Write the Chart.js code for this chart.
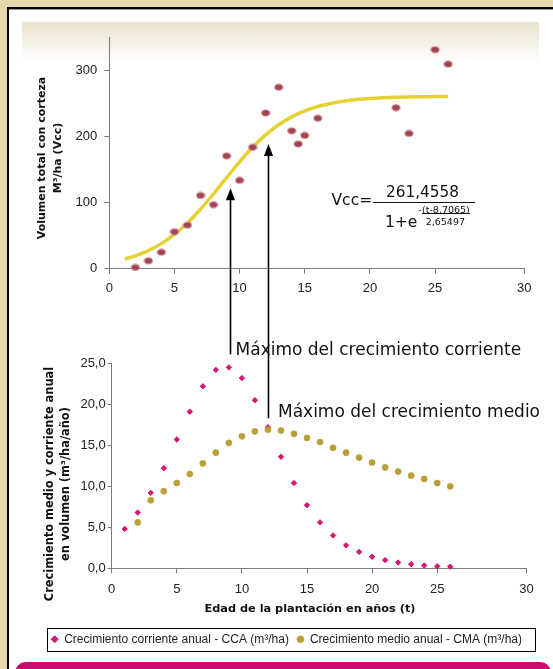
<!DOCTYPE html>
<html lang="es">
<head>
<meta charset="utf-8">
<title>Volumen y crecimiento de la plantación</title>
<script src="https://cdn.jsdelivr.net/npm/chart.js@4.4.1/dist/chart.umd.min.js"></script>
<style>
  html, body { margin: 0; padding: 0; }
  body {
    width: 553px; height: 669px; position: relative; overflow: hidden;
    background: #e7d9ac; font-family: 'DejaVu Sans', sans-serif; color: #111;
  }
  #frame {
    position: absolute; left: 7px; top: 7px; width: 570px; height: 700px;
    background: #fff; border-left: 2px solid #000; border-top: 2px solid #000;
    box-shadow: inset 0 1px 0 #9a9a9a;
  }
  #band {
    position: absolute; left: 22px; top: 22px; width: 517px; height: 40px;
    background: linear-gradient(#e8e2cc, #ffffff);
  }
  #footer {
    position: absolute; left: 15px; top: 662px; width: 536px; height: 40px;
    background: #cb0b6e; border-radius: 11px;
  }
  canvas { position: absolute; left: 0; }
  #volumeChart { top: 0; }
  #growthChart { top: 330px; }
  #overlay { top: 0; pointer-events: none; }
  .txt { position: absolute; white-space: nowrap; line-height: 1; color: #111; }
  .bar { position: absolute; background: #111; }
  .axisTitle {
    position: absolute; font-weight: bold; text-align: center; line-height: 16px;
    white-space: nowrap; color: #111; font-family: 'DejaVu Sans', sans-serif;
  }
</style>
</head>
<body>
<div id="frame"></div>
<div id="band"></div>

<canvas id="volumeChart" width="553" height="300"></canvas>
<canvas id="growthChart" width="553" height="339"></canvas>
<canvas id="overlay" width="553" height="669"></canvas>

<!-- axis titles -->
<div class="axisTitle" style="font-size:11px; width:200px; height:32px; left:-49.7px; top:141.5px; transform:rotate(-90deg);">Volumen total con corteza<br>M³/ha (Vcc)</div>
<div class="axisTitle" style="font-size:11.4px; width:270px; height:32px; left:-77.7px; top:468.2px; transform:rotate(-90deg);">Crecimiento medio y corriente anual<br>en volumen (m³/ha/año)</div>
<div class="axisTitle" style="font-size:11.3px; width:300px; height:16px; left:160px; top:601px;">Edad de la plantación en años (t)</div>

<!-- fitted model -->
<div class="txt" style="font-size:15.5px; left:331.5px; top:192.6px;">Vcc=</div>
<div class="txt" style="font-size:15.3px; left:386px; top:184.8px;">261,4558</div>
<div class="bar" style="left:373px; top:201.7px; width:102px; height:1.3px;"></div>
<div class="txt" style="font-size:15.5px; left:385px; top:215.2px;">1+e</div>
<div class="txt" style="font-size:9.5px; left:418.3px; top:204.6px;">-</div>
<div class="txt" style="font-size:9.5px; left:422px; top:204.6px;">(t-8,7065)</div>
<div class="bar" style="left:422px; top:213.3px; width:48px; height:0.8px;"></div>
<div class="txt" style="font-size:9.5px; left:425.7px; top:216.8px;">2,65497</div>

<!-- maxima -->
<div class="txt" style="font-size:17px; left:235.6px; top:340.6px;">Máximo del crecimiento corriente</div>
<div class="txt" style="font-size:17px; left:278px; top:403.3px;">Máximo del crecimiento medio</div>

<div id="footer"></div>

<script>
// Volume over bark (m³/ha) measured at each plantation age
const volAges     = [2, 3, 4, 5, 6, 7, 8, 9, 10, 11, 12, 13, 14, 14.5, 15, 16, 22, 23, 25, 26];
const volObserved = [2, 12, 25, 56, 66, 111, 97, 171, 134, 184, 236, 275, 209, 189, 202, 228, 244, 205, 332, 310];

// Fitted logistic curve Vcc = 261,4558 / (1 + e^(-(t-8,7065)/2,65497))
const fitAges   = [1.2, 2, 3, 4, 5, 6, 7, 8, 9, 10, 11, 12, 13, 14, 15, 16, 17, 18, 19, 20, 21, 22, 23, 24, 25, 26];
const fitVolume = [14.6, 19.4, 27.3, 38.0, 51.9, 69.3, 90.1, 113.4, 137.9, 162.0, 183.9, 202.8, 218.2,
                   230.1, 239.1, 245.7, 250.4, 253.8, 256.2, 257.8, 258.9, 259.7, 260.3, 260.6, 260.9, 261.1];

// Current annual increment (CCA) and mean annual increment (CMA), m³/ha/año
const ccaAges   = [1, 2, 3, 4, 5, 6, 7, 8, 9, 10, 11, 12, 13, 14, 15, 16, 17, 18, 19, 20, 21, 22, 23, 24, 25, 26];
const ccaValues = [4.8, 6.8, 9.2, 12.2, 15.7, 19.1, 22.2, 24.2, 24.5, 23.2, 20.5, 17.2, 13.6, 10.4,
                   7.7, 5.6, 4.0, 2.8, 2.0, 1.4, 1.0, 0.7, 0.5, 0.35, 0.25, 0.2];
const cmaAges   = [2, 3, 4, 5, 6, 7, 8, 9, 10, 11, 12, 13, 14, 15, 16, 17, 18, 19, 20, 21, 22, 23, 24, 25, 26];
const cmaValues = [5.6, 8.3, 9.4, 10.4, 11.5, 12.8, 14.1, 15.3, 16.1, 16.7, 16.9, 16.8, 16.4, 15.9,
                   15.4, 14.7, 14.1, 13.5, 12.9, 12.3, 11.8, 11.3, 10.9, 10.4, 10.0];

// Axis ticks; the last age label sits at the far end of the axis
const ageAxisEnd     = 31.85;
const ageTickValues  = [0, 5, 10, 15, 20, 25, ageAxisEnd];
const ageTickLabels  = ['0', '5', '10', '15', '20', '25', '30'];
const volTickValues  = [0, 100, 200, 300];
const volTickLabels  = ['0', '100', '200', '300'];
const growTickValues = [0, 5, 10, 15, 20, 25];
const growTickLabels = ['0,0', '5,0', '10,0', '15,0', '20,0', '25,0'];

// Arrows marking the two maxima: age, arrow tip (Vcc) and foot (increment)
const annotationAges  = [9.3, 12.15];
const arrowTipVolume  = [122, 189];
const arrowFootGrowth = [26.1, 18.3];

const legendInset = 43.2;

Chart.defaults.font.family = "'Liberation Sans', Arial, sans-serif";
Chart.defaults.color = '#222';

const axisGrey = '#7a7a7a';
const pts = (xs, ys) => xs.map((x, i) => ({ x, y: ys[i] }));

// elliptical marker used for the measured volumes
const dotImage = document.createElement('canvas');
dotImage.width = 10; dotImage.height = 8;
(() => {
  const c = dotImage.getContext('2d');
  c.beginPath();
  c.ellipse(5, 4, 4.1, 3.1, 0, 0, Math.PI * 2);
  c.fillStyle = '#9e4550';
  c.fill();
  c.lineWidth = 0.9;
  c.strokeStyle = '#de8597';
  c.stroke();
})();

function axis(extra) {
  return Object.assign({
    type: 'linear',
    grid: { display: true, drawOnChartArea: false, drawTicks: true, tickLength: 5, color: axisGrey },
    border: { display: true, color: axisGrey, width: 1 }
  }, extra);
}

const volumeChart = new Chart(document.getElementById('volumeChart'), {
  type: 'scatter',
  data: {
    datasets: [
      {
        label: 'Vcc observado',
        data: pts(volAges, volObserved),
        pointStyle: dotImage,
        pointRadius: 4,
        clip: false,
        order: 0
      },
      {
        label: 'Vcc ajustado',
        data: pts(fitAges, fitVolume),
        showLine: true,
        borderColor: '#e6d133',
        borderWidth: 3.5,
        pointRadius: 0,
        cubicInterpolationMode: 'monotone',
        fill: false,
        clip: false,
        order: 1
      }
    ]
  },
  options: {
    responsive: false,
    animation: false,
    events: [],
    layout: { padding: { left: 0, top: 37.7, right: 28.7, bottom: 0 } },
    plugins: { legend: { display: false }, tooltip: { enabled: false } },
    scales: {
      x: axis({
        min: 0, max: ageAxisEnd,
        afterBuildTicks: s => { s.ticks = ageTickValues.map(v => ({ value: v })); },
        afterFit: s => { s.height = 31.3; },
        ticks: { callback: (v, i) => ageTickLabels[i], padding: 6.5, autoSkip: false, maxRotation: 0, font: { size: 13 }, color: '#222' }
      }),
      y: axis({
        min: 0, max: 350,
        afterBuildTicks: s => { s.ticks = volTickValues.map(v => ({ value: v })); },
        afterFit: s => { s.width = 109.3; },
        ticks: { callback: (v, i) => volTickLabels[i], padding: 7, autoSkip: false, font: { size: 13 }, color: '#222' }
      })
    }
  }
});

// frames the legend and moves it under the plot
const legendFrame = {
  id: 'legendFrame',
  afterLayout(chart) {
    chart.legend.left += legendInset;
    chart.legend.right += legendInset;
  },
  afterDraw(chart) {
    const boxes = chart.legend.legendHitBoxes;
    if (!boxes || !boxes.length) return;
    const first = boxes[0], last = boxes[boxes.length - 1];
    const cy = first.top + first.height / 2;
    const left = Math.round(first.left - 4) + 0.5;
    const right = Math.round(last.left + last.width + 13) + 0.5;
    const top = Math.round(cy - 11.6) + 0.5;
    const ctx = chart.ctx;
    ctx.save();
    ctx.strokeStyle = '#000';
    ctx.lineWidth = 1;
    ctx.strokeRect(left, top, right - left, 23);
    ctx.restore();
  }
};

const growthChart = new Chart(document.getElementById('growthChart'), {
  type: 'scatter',
  data: {
    datasets: [
      {
        label: 'Crecimiento corriente anual - CCA (m³/ha)',
        data: pts(ccaAges, ccaValues),
        pointStyle: 'rectRot',
        pointRadius: 2.7,
        backgroundColor: '#d4176f',
        borderColor: '#d4176f',
        borderWidth: 1,
        clip: false,
        order: 1
      },
      {
        label: 'Crecimiento medio anual - CMA (m³/ha)',
        data: pts(cmaAges, cmaValues),
        pointStyle: 'circle',
        pointRadius: 3.1,
        backgroundColor: '#b89f37',
        borderColor: '#b89f37',
        borderWidth: 0.5,
        clip: false,
        order: 0
      }
    ]
  },
  options: {
    responsive: false,
    animation: false,
    events: [],
    layout: { padding: { left: 0, top: 33.3, right: 26.6, bottom: 13.7 } },
    plugins: {
      tooltip: { enabled: false },
      legend: {
        display: true,
        position: 'bottom',
        align: 'start',
        labels: {
          usePointStyle: true,
          pointStyleWidth: 7,
          boxHeight: 5,
          padding: 8,
          color: '#222',
          font: { size: 12 },
          sort: (a, b) => a.datasetIndex - b.datasetIndex
        }
      }
    },
    scales: {
      x: axis({
        min: 0, max: ageAxisEnd,
        afterBuildTicks: s => { s.ticks = ageTickValues.map(v => ({ value: v })); },
        afterFit: s => { s.height = 57; },
        ticks: { callback: (v, i) => ageTickLabels[i], padding: 8, autoSkip: false, maxRotation: 0, font: { size: 13 }, color: '#222' }
      }),
      y: axis({
        min: 0, max: 25,
        afterBuildTicks: s => { s.ticks = growTickValues.map(v => ({ value: v })); },
        afterFit: s => { s.width = 111.7; },
        grid: { display: true, drawOnChartArea: false, drawTicks: true, tickLength: 4, color: axisGrey },
        ticks: { callback: (v, i) => growTickLabels[i], padding: 2, autoSkip: false, font: { size: 13 }, color: '#222' }
      })
    }
  },
  plugins: [legendFrame]
});

// arrows running from the growth panel up to the volume curve
(function drawArrows() {
  const overlay = document.getElementById('overlay');
  const ctx = overlay.getContext('2d');
  const topOff = document.getElementById('volumeChart').offsetTop;
  const botOff = document.getElementById('growthChart').offsetTop;
  ctx.strokeStyle = '#000';
  ctx.fillStyle = '#000';
  annotationAges.forEach((age, i) => {
    const x = Math.round(volumeChart.scales.x.getPixelForValue(age)) + 0.5;
    const yTip = topOff + volumeChart.scales.y.getPixelForValue(arrowTipVolume[i]);
    const yFoot = botOff + growthChart.scales.y.getPixelForValue(arrowFootGrowth[i]);
    ctx.lineWidth = 1.6;
    ctx.beginPath();
    ctx.moveTo(x, yFoot);
    ctx.lineTo(x, yTip + 10);
    ctx.stroke();
    ctx.beginPath();
    ctx.moveTo(x, yTip);
    ctx.lineTo(x - 4.6, yTip + 12);
    ctx.lineTo(x + 4.6, yTip + 12);
    ctx.closePath();
    ctx.fill();
  });
})();
</script>
</body>
</html>
